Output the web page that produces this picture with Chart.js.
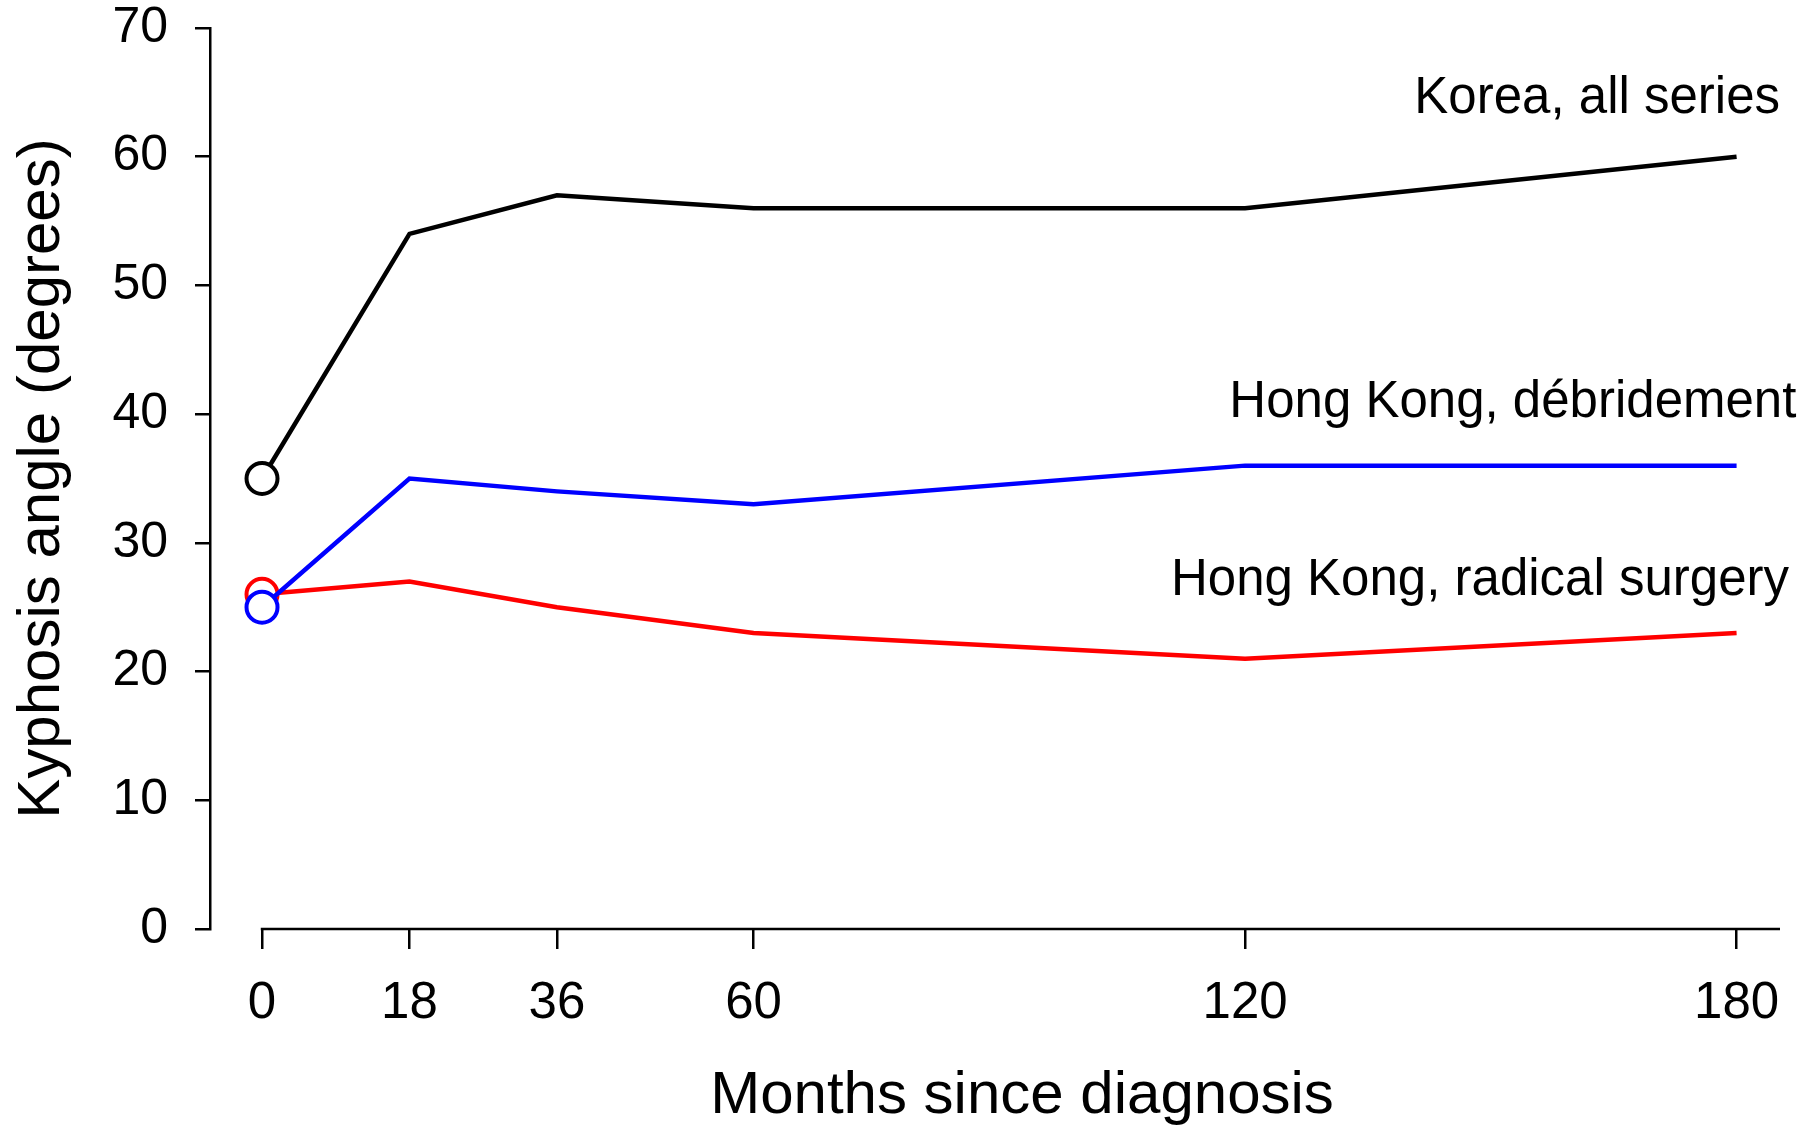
<!DOCTYPE html>
<html>
<head>
<meta charset="utf-8">
<script src="https://cdn.jsdelivr.net/npm/chart.js@4/dist/chart.umd.min.js"></script>
<style>
  html, body { margin: 0; padding: 0; background: #fff; }
  #wrap { width: 1818px; height: 1132px; }
</style>
</head>
<body>
<div id="wrap"><canvas id="myChart" width="1818" height="1132"></canvas></div>
<script>
// months since diagnosis
const months = [0, 18, 36, 60, 120, 180];
const xTicks = [0, 18, 36, 60, 120, 180];

// kyphosis angle (degrees)
const korea = [35, 54, 57, 56, 56, 60];
const hkDebridement = [25, 35, 34, 33, 36, 36];
const hkRadical = [26, 27, 25, 23, 21, 23];

const seriesNames = ['Korea, all series', 'Hong Kong, débridement', 'Hong Kong, radical surgery'];
const seriesColors = ['#000000', '#0000ff', '#ff0000'];
// where each name sits, in data units (right edge, middle)
const nameX = [185.3, 187.3, 186.4];
const nameY = [64.5, 40.85, 27.05];

const xTitle = 'Months since diagnosis';
const FONT = '"Liberation Sans", Arial, sans-serif';

function toPoints(values) {
    return months.map((m, i) => ({ x: m, y: values[i] }));
}

function makeDataset(label, values, color) {
    return {
        label,
        data: toPoints(values),
        borderColor: color,
        borderWidth: 4.5,
        pointRadius: ctx => ctx.dataIndex === 0 ? 15.5 : 0,
        pointHoverRadius: ctx => ctx.dataIndex === 0 ? 15.5 : 0,
        pointBackgroundColor: '#ffffff',
        pointBorderColor: color,
        pointBorderWidth: 4,
        tension: 0,
        fill: false
    };
}

// R-style detached x axis line, x title and series names
const extras = {
    id: 'extras',
    afterDraw(chart) {
        const { ctx, chartArea, scales } = chart;
        const x = scales.x, y = scales.y;
        ctx.save();
        ctx.strokeStyle = '#000';
        ctx.lineWidth = 2.5;
        ctx.beginPath();
        ctx.moveTo(x.getPixelForValue(0) - 1.25, y.getPixelForValue(0));
        ctx.lineTo(chartArea.right, y.getPixelForValue(0));
        ctx.stroke();

        ctx.fillStyle = '#000';
        ctx.textBaseline = 'middle';

        ctx.font = '60px ' + FONT;
        ctx.textAlign = 'center';
        ctx.fillText(xTitle, 1022, 1096);

        ctx.font = '51px ' + FONT;
        ctx.textAlign = 'right';
        seriesNames.forEach((name, i) => {
            ctx.fillText(name, x.getPixelForValue(nameX[i]), y.getPixelForValue(nameY[i]));
        });
        ctx.restore();
    }
};

const canvas = document.getElementById('myChart');
new Chart(canvas.getContext('2d'), {
    type: 'line',
    data: {
        datasets: [
            makeDataset(seriesNames[0], korea, seriesColors[0]),
            makeDataset(seriesNames[1], hkDebridement, seriesColors[1]),
            makeDataset(seriesNames[2], hkRadical, seriesColors[2])
        ]
    },
    options: {
        responsive: false,
        animation: false,
        events: [],
        layout: { padding: { top: 28, right: 38, left: 0, bottom: 0 } },
        plugins: {
            legend: { display: false },
            tooltip: { enabled: false }
        },
        scales: {
            x: {
                type: 'linear',
                min: -6.35,
                max: 185.3,
                afterBuildTicks: scale => {
                    scale.ticks = xTicks.map(v => ({ value: v }));
                },
                afterFit: scale => {
                    scale.height = 203;
                    scale.paddingLeft = 0;
                    scale.paddingRight = 0;
                },
                ticks: {
                    color: '#000',
                    font: { family: FONT, size: 51 },
                    padding: 24,
                    maxRotation: 0,
                    autoSkip: false
                },
                grid: {
                    drawOnChartArea: false,
                    drawTicks: true,
                    tickLength: 20,
                    color: '#000',
                    lineWidth: 2.5
                },
                border: { display: false }
            },
            y: {
                type: 'linear',
                min: 0,
                max: 70,
                afterFit: scale => {
                    scale.width = 210;
                    scale.paddingTop = 0;
                    scale.paddingBottom = 0;
                },
                ticks: {
                    stepSize: 10,
                    color: '#000',
                    font: { family: FONT, size: 50 },
                    padding: 27
                },
                grid: {
                    drawOnChartArea: false,
                    drawTicks: true,
                    tickLength: 15,
                    color: '#000',
                    lineWidth: 2.5
                },
                border: { display: true, color: '#000', width: 2.5 },
                title: {
                    display: true,
                    text: 'Kyphosis angle (degrees)',
                    color: '#000',
                    font: { family: FONT, size: 60 },
                    padding: { top: 6, bottom: 0 }
                }
            }
        }
    },
    plugins: [extras]
});
</script>
</body>
</html>
